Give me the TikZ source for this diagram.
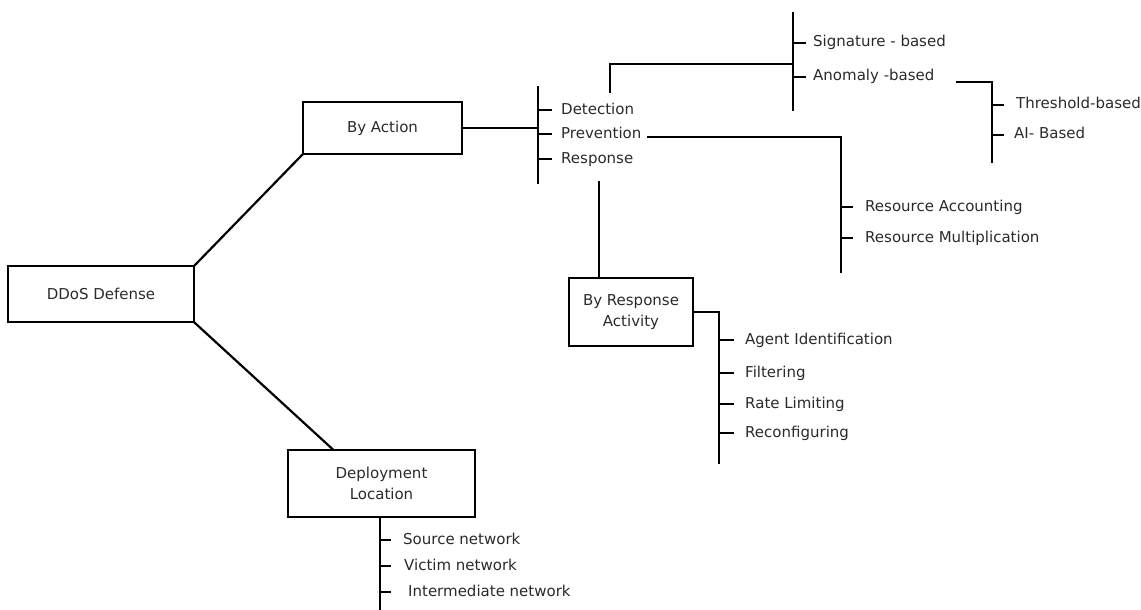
\documentclass[tikz,border=0pt]{standalone}
\usepackage{fontspec}
\setmainfont{DejaVu Sans}
\usetikzlibrary{calc}
\definecolor{ink}{HTML}{2A2A2A}
\begin{document}
\begin{tikzpicture}[x=1pt,y=-1pt,
  wire/.style={line width=2.2pt,line cap=rect},
  box/.style={draw,line width=2.2pt,align=center,inner sep=0,text=ink,font=\fontsize{15}{21}\selectfont},
  leaf/.style={anchor=west,inner sep=0,text height=11pt,text depth=3pt,text=ink,font=\fontsize{15}{18}\selectfont}]
\useasboundingbox (0,0) rectangle (1141,610);

% main boxes
\node[box,minimum width=186pt,minimum height=56pt] (ddos) at (101,294) {DDoS Defense};
\node[box,minimum width=159pt,minimum height=52pt] (byaction) at (382.5,128) {By Action};
\node[box,minimum width=187pt,minimum height=67pt] (deploy) at (381.5,483.5) {Deployment\\Location};
\node[box,minimum width=124pt,minimum height=68pt] (activity) at (631,312) {By Response\\Activity};

\draw[wire] (ddos.north east) -- (byaction.south west);
\draw[wire] (ddos.south east) -- ($(deploy.north west)!0.24!(deploy.north east)$);

% by action: detection / prevention / response
\coordinate (abTop) at (538,87);
\coordinate (abBot) at (538,183);
\draw[wire] (abTop) -- (abBot);
\draw[wire] (byaction.east) -- (byaction.east -| abTop);
\node[leaf] (det)  at (561,110) {Detection};
\node[leaf] (prev) at (561,134) {Prevention};
\node[leaf] (resp) at (561,159) {Response};
\foreach \n in {det,prev,resp} \draw[wire] (\n.west -| abTop) -- ++(13,0);

% detection branch
\coordinate (sgTop) at (793,13);
\coordinate (sgBot) at (793,110);
\draw[wire] (sgTop) -- (sgBot);
\draw[wire] ([xshift=49pt,yshift=11pt]det.north west) |- (793,64);
\node[leaf] (sig)  at (813,43) {Signature - based};
\node[leaf] (anom) at (813,77) {Anomaly -based};
\foreach \n in {sig,anom} \draw[wire] (\n.west -| sgTop) -- ++(12,0);

% anomaly branch
\coordinate (anTop) at (992,82);
\coordinate (anBot) at (992,162);
\draw[wire] (anTop) -- (anBot);
\draw[wire] ([xshift=144pt,yshift=-5pt]anom.west) -- (anTop);
\node[leaf] (thr) at (1016,105) {Threshold-based};
\node[leaf] (ai)  at (1014,135) {AI- Based};
\draw[wire] (thr.west -| anTop) -- ++(11,0);
\draw[wire] (ai.west -| anTop) -- ++(11,0);

% prevention branch
\coordinate (rsTop) at (841,137);
\coordinate (rsBot) at (841,272);
\draw[wire] ([xshift=87pt,yshift=-3pt]prev.west) -- (rsTop) -- (rsBot);
\node[leaf] (racc) at (865,207) {Resource Accounting};
\node[leaf] (rmul) at (865,238) {Resource Multiplication};
\foreach \n in {racc,rmul} \draw[wire] (\n.west -| rsTop) -- ++(11,0);

% response branch
\draw[wire] ([yshift=-16pt]resp.south -| 599,0) -- (activity.north -| 599,0);
\coordinate (raTop) at (719,312);
\coordinate (raBot) at (719,463);
\draw[wire] (activity.east) -- (activity.east -| raTop) -- (raBot);
\node[leaf] (agent) at (745,340) {Agent Identification};
\node[leaf] (filt)  at (745,373) {Filtering};
\node[leaf] (rate)  at (745,404) {Rate Limiting};
\node[leaf] (recon) at (745,433) {Reconfiguring};
\foreach \n in {agent,filt,rate,recon} \draw[wire] (\n.west -| raTop) -- ++(14,0);

% deployment location
\coordinate (dpBot) at (380,610);
\draw[wire] (deploy.south -| dpBot) -- (dpBot);
\node[leaf] (src) at (403,540) {Source network};
\node[leaf] (vic) at (404,566) {Victim network};
\node[leaf] (mid) at (408,592) {Intermediate network};
\foreach \n in {src,vic,mid} \draw[wire] (\n.west -| dpBot) -- ++(10,0);
\end{tikzpicture}
\end{document}
